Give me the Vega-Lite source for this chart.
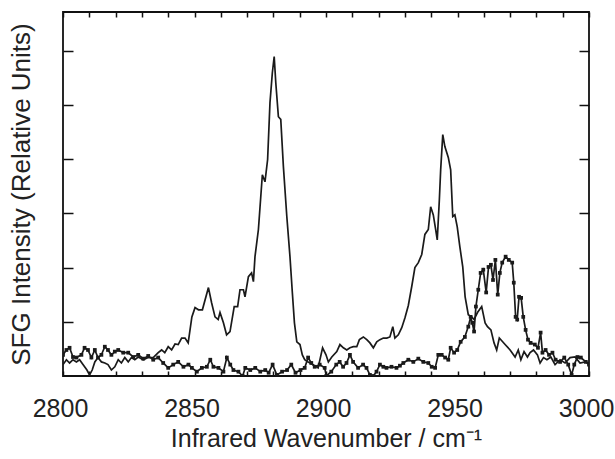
{
  "$schema": "https://vega.github.io/schema/vega-lite/v6.json",
  "width": 526,
  "height": 364,
  "autosize": "none",
  "padding": {"left": 63, "top": 12, "right": 26, "bottom": 83},
  "config": {
    "view": {"stroke": "#111", "strokeWidth": 1.8},
    "font": "Liberation Sans",
    "axis": {"labelFont": "Liberation Sans", "titleFont": "Liberation Sans", "labelColor": "#222", "titleColor": "#222", "titleFontWeight": "normal", "grid": false, "domain": false, "tickColor": "#111", "tickWidth": 1.5}
  },
  "datasets": {
    "A": [
      {"wn": 2800, "sfg": 0.21}, {"wn": 2801.3, "sfg": 0.30}, {"wn": 2802.5, "sfg": 0.24}, {"wn": 2803.8, "sfg": 0.30}, {"wn": 2805.1, "sfg": 0.26}, {"wn": 2806.3, "sfg": 0.30}, {"wn": 2807.6, "sfg": 0.21}, {"wn": 2809.1, "sfg": 0.11}, {"wn": 2810.1, "sfg": 0.02}, {"wn": 2811.1, "sfg": 0.11}, {"wn": 2812.1, "sfg": 0.26}, {"wn": 2813.3, "sfg": 0.34}, {"wn": 2814.6, "sfg": 0.26}, {"wn": 2815.9, "sfg": 0.24}, {"wn": 2817.1, "sfg": 0.21}, {"wn": 2818.4, "sfg": 0.11}, {"wn": 2819.7, "sfg": 0.17}, {"wn": 2821, "sfg": 0.30}, {"wn": 2822.2, "sfg": 0.24}, {"wn": 2823.5, "sfg": 0.34}, {"wn": 2824.8, "sfg": 0.26}, {"wn": 2826, "sfg": 0.34}, {"wn": 2827.3, "sfg": 0.30}, {"wn": 2828.6, "sfg": 0.35}, {"wn": 2830.5, "sfg": 0.30}, {"wn": 2832.4, "sfg": 0.34}, {"wn": 2834.3, "sfg": 0.34}, {"wn": 2836.2, "sfg": 0.43}, {"wn": 2837.5, "sfg": 0.48}, {"wn": 2838.7, "sfg": 0.43}, {"wn": 2840, "sfg": 0.54}, {"wn": 2841.3, "sfg": 0.48}, {"wn": 2842.6, "sfg": 0.59}, {"wn": 2843.8, "sfg": 0.58}, {"wn": 2845.1, "sfg": 0.70}, {"wn": 2846.4, "sfg": 0.70}, {"wn": 2847.6, "sfg": 0.61}, {"wn": 2849, "sfg": 1.09}, {"wn": 2850.2, "sfg": 1.26}, {"wn": 2851.5, "sfg": 1.22}, {"wn": 2853, "sfg": 1.22}, {"wn": 2855.3, "sfg": 1.63}, {"wn": 2856.5, "sfg": 1.35}, {"wn": 2857.8, "sfg": 1.09}, {"wn": 2859, "sfg": 1.04}, {"wn": 2859.7, "sfg": 1.17}, {"wn": 2861, "sfg": 0.98}, {"wn": 2862.2, "sfg": 0.76}, {"wn": 2863.5, "sfg": 0.82}, {"wn": 2865.1, "sfg": 1.28}, {"wn": 2866.4, "sfg": 1.28}, {"wn": 2867.3, "sfg": 1.59}, {"wn": 2868.6, "sfg": 1.59}, {"wn": 2869.2, "sfg": 1.46}, {"wn": 2870.5, "sfg": 1.83}, {"wn": 2871.7, "sfg": 1.90}, {"wn": 2872.4, "sfg": 1.74}, {"wn": 2873, "sfg": 2.20}, {"wn": 2874.3, "sfg": 2.70}, {"wn": 2875.8, "sfg": 3.71}, {"wn": 2876.8, "sfg": 3.58}, {"wn": 2877.8, "sfg": 3.99}, {"wn": 2878.7, "sfg": 5.04}, {"wn": 2879.6, "sfg": 5.59}, {"wn": 2880.3, "sfg": 5.89}, {"wn": 2880.9, "sfg": 5.41}, {"wn": 2881.9, "sfg": 4.78}, {"wn": 2882.8, "sfg": 4.73}, {"wn": 2883.8, "sfg": 3.86}, {"wn": 2885.1, "sfg": 2.94}, {"wn": 2886.3, "sfg": 2.20}, {"wn": 2887.2, "sfg": 1.54}, {"wn": 2888, "sfg": 0.98}, {"wn": 2888.9, "sfg": 0.63}, {"wn": 2890.1, "sfg": 0.58}, {"wn": 2891, "sfg": 0.39}, {"wn": 2891.9, "sfg": 0.30}, {"wn": 2893.2, "sfg": 0.26}, {"wn": 2895.1, "sfg": 0.21}, {"wn": 2897, "sfg": 0.15}, {"wn": 2898.7, "sfg": 0.52}, {"wn": 2900, "sfg": 0.39}, {"wn": 2900.9, "sfg": 0.26}, {"wn": 2902.2, "sfg": 0.35}, {"wn": 2904.1, "sfg": 0.45}, {"wn": 2905.3, "sfg": 0.58}, {"wn": 2906.6, "sfg": 0.52}, {"wn": 2907.9, "sfg": 0.48}, {"wn": 2909.1, "sfg": 0.52}, {"wn": 2910.4, "sfg": 0.54}, {"wn": 2911.7, "sfg": 0.54}, {"wn": 2912.7, "sfg": 0.67}, {"wn": 2914.2, "sfg": 0.72}, {"wn": 2915.5, "sfg": 0.67}, {"wn": 2916.7, "sfg": 0.61}, {"wn": 2918, "sfg": 0.52}, {"wn": 2919.3, "sfg": 0.63}, {"wn": 2920.5, "sfg": 0.67}, {"wn": 2921.8, "sfg": 0.70}, {"wn": 2923.1, "sfg": 0.70}, {"wn": 2924.3, "sfg": 0.72}, {"wn": 2925.4, "sfg": 0.91}, {"wn": 2926.2, "sfg": 0.70}, {"wn": 2927.5, "sfg": 0.76}, {"wn": 2928.8, "sfg": 0.89}, {"wn": 2930, "sfg": 1.07}, {"wn": 2931.3, "sfg": 1.30}, {"wn": 2932.6, "sfg": 1.65}, {"wn": 2933.8, "sfg": 2.00}, {"wn": 2935.1, "sfg": 2.09}, {"wn": 2936.4, "sfg": 2.24}, {"wn": 2937.6, "sfg": 2.61}, {"wn": 2938.9, "sfg": 2.70}, {"wn": 2939.8, "sfg": 3.12}, {"wn": 2940.8, "sfg": 2.97}, {"wn": 2941.7, "sfg": 2.70}, {"wn": 2942.3, "sfg": 2.51}, {"wn": 2943.1, "sfg": 3.25}, {"wn": 2943.6, "sfg": 3.80}, {"wn": 2944.4, "sfg": 4.45}, {"wn": 2945.2, "sfg": 4.23}, {"wn": 2946.5, "sfg": 4.03}, {"wn": 2947.4, "sfg": 3.80}, {"wn": 2948.2, "sfg": 2.94}, {"wn": 2949, "sfg": 2.97}, {"wn": 2949.9, "sfg": 2.75}, {"wn": 2950.9, "sfg": 2.38}, {"wn": 2952, "sfg": 2.01}, {"wn": 2952.9, "sfg": 1.46}, {"wn": 2954.1, "sfg": 1.13}, {"wn": 2955.4, "sfg": 1.09}, {"wn": 2956.3, "sfg": 1.04}, {"wn": 2957.6, "sfg": 1.17}, {"wn": 2959.2, "sfg": 1.28}, {"wn": 2960.5, "sfg": 0.98}, {"wn": 2961.4, "sfg": 0.91}, {"wn": 2962.7, "sfg": 0.85}, {"wn": 2963.9, "sfg": 0.61}, {"wn": 2964.9, "sfg": 0.48}, {"wn": 2965.9, "sfg": 0.70}, {"wn": 2968.1, "sfg": 0.58}, {"wn": 2970, "sfg": 0.48}, {"wn": 2971.9, "sfg": 0.35}, {"wn": 2973.1, "sfg": 0.48}, {"wn": 2974.1, "sfg": 0.30}, {"wn": 2975.3, "sfg": 0.45}, {"wn": 2976.6, "sfg": 0.35}, {"wn": 2977.6, "sfg": 0.43}, {"wn": 2978.9, "sfg": 0.48}, {"wn": 2980.4, "sfg": 0.39}, {"wn": 2981.4, "sfg": 0.24}, {"wn": 2982.7, "sfg": 0.34}, {"wn": 2984, "sfg": 0.30}, {"wn": 2985.5, "sfg": 0.35}, {"wn": 2987.1, "sfg": 0.21}, {"wn": 2989, "sfg": 0.30}, {"wn": 2990.9, "sfg": 0.24}, {"wn": 2992.8, "sfg": 0.34}, {"wn": 2994.7, "sfg": 0.35}, {"wn": 2996.6, "sfg": 0.24}, {"wn": 2998.5, "sfg": 0.26}, {"wn": 3000, "sfg": 0.24}
    ],
    "B": [
      {"wn": 2800, "sfg": 0.39}, {"wn": 2801.3, "sfg": 0.48}, {"wn": 2802.5, "sfg": 0.52}, {"wn": 2803.8, "sfg": 0.35}, {"wn": 2805.1, "sfg": 0.34}, {"wn": 2807, "sfg": 0.39}, {"wn": 2808.2, "sfg": 0.52}, {"wn": 2809.5, "sfg": 0.48}, {"wn": 2810.8, "sfg": 0.34}, {"wn": 2812.1, "sfg": 0.48}, {"wn": 2813.3, "sfg": 0.34}, {"wn": 2814.6, "sfg": 0.39}, {"wn": 2815.9, "sfg": 0.54}, {"wn": 2817.1, "sfg": 0.48}, {"wn": 2818.4, "sfg": 0.39}, {"wn": 2819.7, "sfg": 0.45}, {"wn": 2821, "sfg": 0.48}, {"wn": 2822.9, "sfg": 0.43}, {"wn": 2824.8, "sfg": 0.43}, {"wn": 2826.7, "sfg": 0.35}, {"wn": 2828.6, "sfg": 0.39}, {"wn": 2830.5, "sfg": 0.32}, {"wn": 2832.4, "sfg": 0.37}, {"wn": 2834.3, "sfg": 0.30}, {"wn": 2836.2, "sfg": 0.34}, {"wn": 2838.1, "sfg": 0.24}, {"wn": 2840, "sfg": 0.15}, {"wn": 2841.9, "sfg": 0.21}, {"wn": 2843.8, "sfg": 0.26}, {"wn": 2845.8, "sfg": 0.17}, {"wn": 2847.7, "sfg": 0.21}, {"wn": 2849, "sfg": 0.15}, {"wn": 2850.9, "sfg": 0.08}, {"wn": 2852.8, "sfg": 0.15}, {"wn": 2854.7, "sfg": 0.17}, {"wn": 2856, "sfg": 0.30}, {"wn": 2857.2, "sfg": 0.17}, {"wn": 2859.1, "sfg": 0.15}, {"wn": 2861, "sfg": 0.08}, {"wn": 2862.3, "sfg": 0.34}, {"wn": 2863.6, "sfg": 0.21}, {"wn": 2864.8, "sfg": 0.11}, {"wn": 2866.7, "sfg": 0.08}, {"wn": 2868.3, "sfg": 0.0}, {"wn": 2869.3, "sfg": 0.15}, {"wn": 2871.2, "sfg": 0.11}, {"wn": 2873.1, "sfg": 0.15}, {"wn": 2875, "sfg": 0.08}, {"wn": 2876.9, "sfg": 0.11}, {"wn": 2878.2, "sfg": 0.06}, {"wn": 2879.7, "sfg": 0.21}, {"wn": 2881.3, "sfg": 0.02}, {"wn": 2883.3, "sfg": 0.08}, {"wn": 2885.2, "sfg": 0.11}, {"wn": 2886.8, "sfg": 0.21}, {"wn": 2888.4, "sfg": 0.06}, {"wn": 2890.3, "sfg": 0.11}, {"wn": 2891.9, "sfg": 0.15}, {"wn": 2893.2, "sfg": 0.34}, {"wn": 2894.4, "sfg": 0.24}, {"wn": 2895.7, "sfg": 0.17}, {"wn": 2897.6, "sfg": 0.21}, {"wn": 2899.5, "sfg": 0.15}, {"wn": 2900.1, "sfg": 0.0}, {"wn": 2902, "sfg": 0.08}, {"wn": 2903.9, "sfg": 0.21}, {"wn": 2905.2, "sfg": 0.26}, {"wn": 2906.5, "sfg": 0.17}, {"wn": 2907.8, "sfg": 0.24}, {"wn": 2909.1, "sfg": 0.39}, {"wn": 2910.3, "sfg": 0.26}, {"wn": 2912.2, "sfg": 0.15}, {"wn": 2914.1, "sfg": 0.21}, {"wn": 2915.4, "sfg": 0.15}, {"wn": 2916.7, "sfg": 0.02}, {"wn": 2918, "sfg": 0.0}, {"wn": 2919.2, "sfg": 0.08}, {"wn": 2920.5, "sfg": 0.21}, {"wn": 2921.8, "sfg": 0.17}, {"wn": 2923, "sfg": 0.15}, {"wn": 2924.9, "sfg": 0.17}, {"wn": 2926.8, "sfg": 0.15}, {"wn": 2928.1, "sfg": 0.19}, {"wn": 2929.4, "sfg": 0.24}, {"wn": 2931.3, "sfg": 0.30}, {"wn": 2933.2, "sfg": 0.26}, {"wn": 2935.1, "sfg": 0.32}, {"wn": 2937, "sfg": 0.26}, {"wn": 2938.9, "sfg": 0.24}, {"wn": 2940.2, "sfg": 0.17}, {"wn": 2941.5, "sfg": 0.15}, {"wn": 2942.7, "sfg": 0.39}, {"wn": 2944, "sfg": 0.39}, {"wn": 2945.3, "sfg": 0.34}, {"wn": 2946.5, "sfg": 0.30}, {"wn": 2947.4, "sfg": 0.52}, {"wn": 2948.7, "sfg": 0.43}, {"wn": 2949.9, "sfg": 0.48}, {"wn": 2951.2, "sfg": 0.63}, {"wn": 2952.8, "sfg": 0.72}, {"wn": 2954.1, "sfg": 0.91}, {"wn": 2955, "sfg": 1.09}, {"wn": 2955.6, "sfg": 0.98}, {"wn": 2956.3, "sfg": 0.82}, {"wn": 2957, "sfg": 1.28}, {"wn": 2957.9, "sfg": 1.59}, {"wn": 2958.8, "sfg": 1.90}, {"wn": 2959.8, "sfg": 1.96}, {"wn": 2960.9, "sfg": 1.54}, {"wn": 2961.8, "sfg": 2.01}, {"wn": 2962.7, "sfg": 2.05}, {"wn": 2963.5, "sfg": 1.77}, {"wn": 2964.4, "sfg": 2.14}, {"wn": 2965.3, "sfg": 1.50}, {"wn": 2966.1, "sfg": 1.90}, {"wn": 2967, "sfg": 2.09}, {"wn": 2968.3, "sfg": 2.20}, {"wn": 2969.5, "sfg": 2.14}, {"wn": 2970.8, "sfg": 2.09}, {"wn": 2971.4, "sfg": 1.72}, {"wn": 2972.1, "sfg": 1.09}, {"wn": 2972.7, "sfg": 1.04}, {"wn": 2973.4, "sfg": 1.46}, {"wn": 2974.2, "sfg": 1.44}, {"wn": 2975, "sfg": 1.09}, {"wn": 2975.9, "sfg": 0.85}, {"wn": 2976.8, "sfg": 0.67}, {"wn": 2977.8, "sfg": 0.61}, {"wn": 2979.4, "sfg": 0.58}, {"wn": 2980.6, "sfg": 0.52}, {"wn": 2981.6, "sfg": 0.80}, {"wn": 2982.3, "sfg": 0.43}, {"wn": 2983.5, "sfg": 0.48}, {"wn": 2984.8, "sfg": 0.39}, {"wn": 2986.1, "sfg": 0.43}, {"wn": 2987.3, "sfg": 0.30}, {"wn": 2989, "sfg": 0.26}, {"wn": 2990.6, "sfg": 0.34}, {"wn": 2992.1, "sfg": 0.21}, {"wn": 2993.4, "sfg": 0.02}, {"wn": 2994.4, "sfg": 0.21}, {"wn": 2995.6, "sfg": 0.35}, {"wn": 2996.9, "sfg": 0.34}, {"wn": 2998.8, "sfg": 0.26}, {"wn": 3000, "sfg": 0.21}
    ]
  },
  "layer": [
    {
      "data": {"name": "A"},
      "mark": {"type": "line", "color": "#1a1a1a", "strokeWidth": 1.7, "clip": true},
      "encoding": {
        "x": {"field": "wn", "type": "quantitative", "scale": {"domain": [2800, 3000], "nice": false},
          "axis": {"orient": "bottom", "values": [2800,2810,2820,2830,2840,2850,2860,2870,2880,2890,2900,2910,2920,2930,2940,2950,2960,2970,2980,2990,3000],
            "labelExpr": "datum.value % 50 == 0 ? datum.label : ''", "format": "d", "tickSize": -5, "labelPadding": 25, "labelFontSize": 25, "labelFlush": false, "labelOffset": -3,
            "title": "Infrared Wavenumber / cm⁻¹", "titleFontSize": 25, "titlePadding": 5}},
        "y": {"field": "sfg", "type": "quantitative", "scale": {"domain": [0, 6.71], "nice": false, "zero": false},
          "axis": {"orient": "left", "values": [1,2,3,4,5,6], "labels": false, "tickSize": -10,
            "title": "SFG Intensity (Relative Units)", "titleFontSize": 26, "titlePadding": 28}}
      }
    },
    {
      "data": {"name": "B"},
      "mark": {"type": "line", "color": "#1a1a1a", "strokeWidth": 1.7, "clip": true, "point": {"filled": true, "shape": "square", "size": 14, "color": "#1a1a1a"}},
      "encoding": {
        "x": {"field": "wn", "type": "quantitative",
          "axis": {"orient": "top", "values": [2800,2810,2820,2830,2840,2850,2860,2870,2880,2890,2900,2910,2920,2930,2940,2950,2960,2970,2980,2990,3000], "labels": false, "tickSize": -5, "title": null}},
        "y": {"field": "sfg", "type": "quantitative",
          "axis": {"orient": "right", "values": [1,2,3,4,5,6], "labels": false, "tickSize": -10, "title": null}}
      }
    }
  ],
  "resolve": {"axis": {"x": "independent", "y": "independent"}}
}
